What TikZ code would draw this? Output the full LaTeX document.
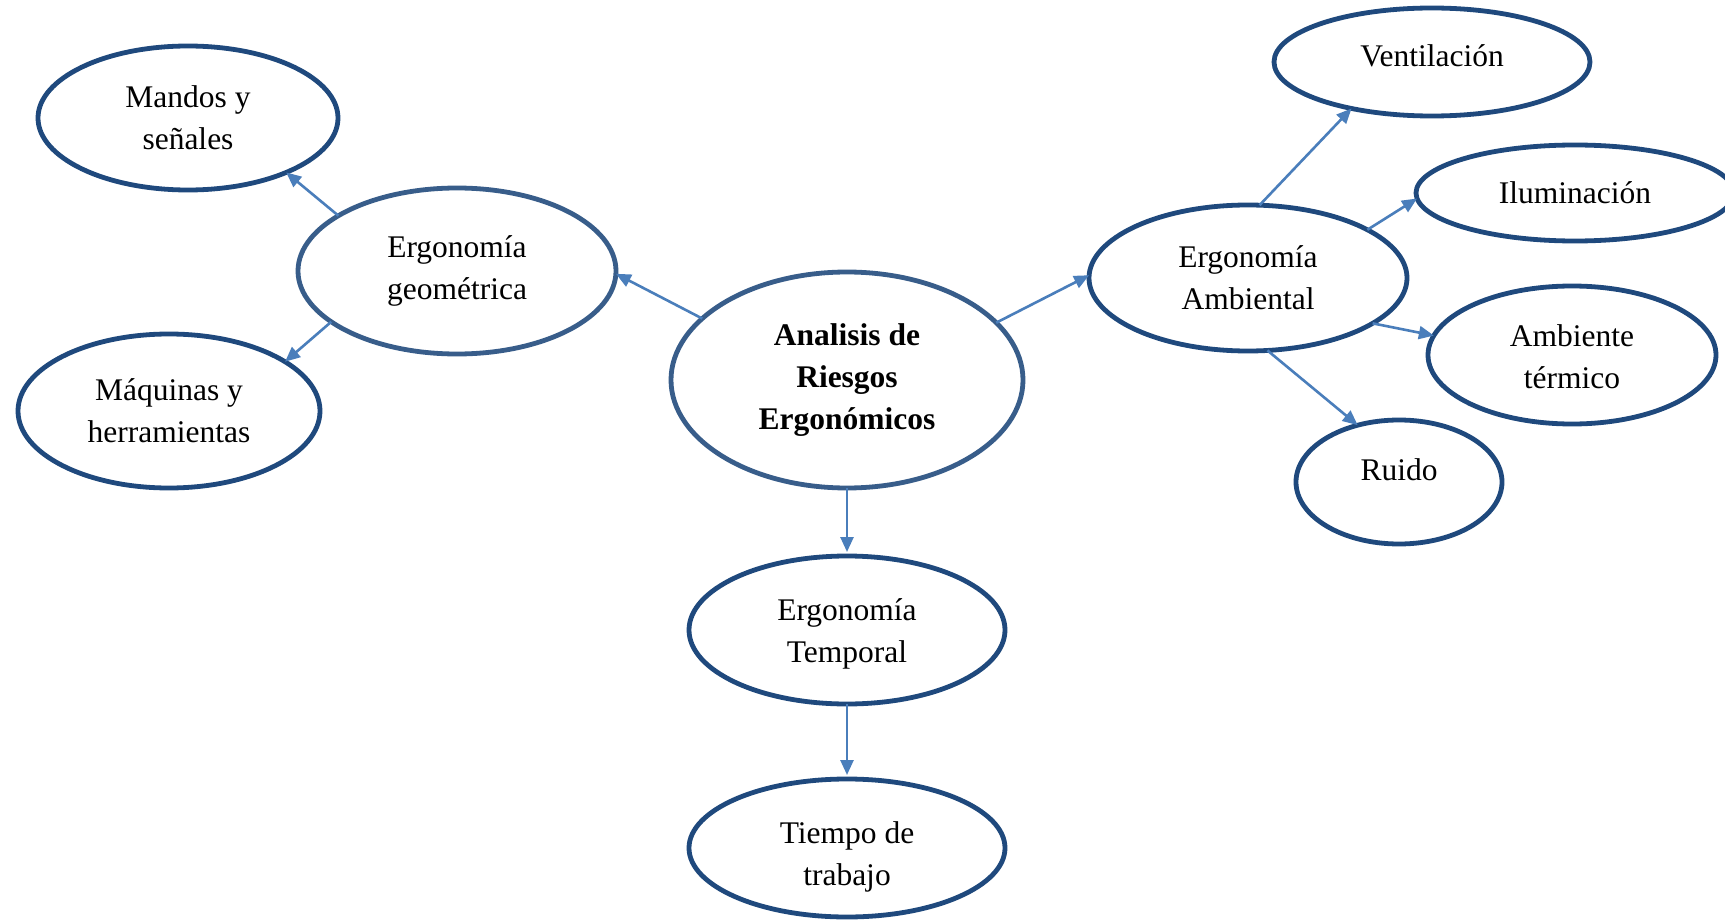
\documentclass[tikz,border=0pt]{standalone}
\usepackage{fontspec}
\setmainfont{Liberation Serif}
\usetikzlibrary{shapes.geometric,arrows.meta}
\definecolor{rim}{HTML}{1F497D}
\definecolor{rimsoft}{HTML}{385D8A}
\definecolor{linkblue}{HTML}{4A7EBB}
% shift a label up or down without changing the size of its node
\newcommand{\lifttext}[2]{\raisebox{#1}[\height][\depth]{#2}}
\newcommand{\twolines}[3]{\lifttext{#1}{\begin{tabular}{@{}c@{}}#2\\#3\end{tabular}}}
\begin{document}
\begin{tikzpicture}[x=0.5pt,y=-0.5pt,
  bubble/.style={ellipse,draw=rim,line width=2.4pt,inner sep=0pt,outer sep=0pt,
    align=center,font=\fontsize{15.75}{21}\selectfont},
  softbubble/.style={bubble,draw=rimsoft},
  arrowlink/.style={draw=linkblue,line width=1.3pt,
    -{Triangle[length=7.5pt,width=6.5pt]}}]
  \fill[white] (0,0) rectangle (1725,920);
  \useasboundingbox (0,0) rectangle (1725,920);

  % central topic
  \node[softbubble,minimum width=176pt,minimum height=108pt,font=\fontsize{15.75}{21}\selectfont\bfseries]
    (c) at (847,380) {Analisis de\\Riesgos\\Ergonómicos};

  % geometric branch
  \node[softbubble,minimum width=159pt,minimum height=83pt] (geo) at (457,271) {Ergonomía\\geométrica};
  \node[bubble,minimum width=150pt,minimum height=72pt] (ms) at (188,118) {Mandos y\\señales};
  \node[bubble,minimum width=151pt,minimum height=77pt] (mh) at (169,411) {Máquinas y\\herramientas};

  % environmental branch
  \node[bubble,minimum width=159pt,minimum height=73pt] (amb) at (1248,278) {Ergonomía\\Ambiental};
  \node[bubble,minimum width=158pt,minimum height=54pt] (ven) at (1432,62) {\lifttext{3.3pt}{Ventilación}};
  \node[bubble,minimum width=159pt,minimum height=48pt] (ilu) at (1575,193) {Iluminación};
  \node[bubble,minimum width=144pt,minimum height=69pt] (ter) at (1572,355) {\twolines{-2pt}{Ambiente}{térmico}};
  \node[bubble,minimum width=103pt,minimum height=62pt] (rui) at (1399,482) {\lifttext{6pt}{Ruido}};

  % temporal branch
  \node[bubble,minimum width=158pt,minimum height=74pt] (tem) at (847,630) {\twolines{-1.5pt}{Ergonomía}{Temporal}};
  \node[bubble,minimum width=158pt,minimum height=69pt] (tie) at (847,848) {\twolines{-4pt}{Tiempo de}{trabajo}};

  % connectors
  \draw[arrowlink] (c.157.5) -- (geo.-1.5);
  \draw[arrowlink] (geo.155.3) -- (ms.-29.3);
  \draw[arrowlink] (geo.202.7) -- (mh.23.1);
  \draw[arrowlink] (c.21.7) -- (amb.179.3);
  \draw[arrowlink] (amb.81.1) -- (ven.210.8);
  \draw[arrowlink] (amb.22.9) -- (ilu.182.9);
  \draw[arrowlink] (amb.-20.4) -- (ter.172.4);
  \draw[arrowlink] (amb.-75.2) -- (rui.126);
  \draw[arrowlink,shorten >=2pt] (c.south) -- (tem.north);
  \draw[arrowlink,shorten >=2pt] (tem.south) -- (tie.north);
\end{tikzpicture}
\end{document}
